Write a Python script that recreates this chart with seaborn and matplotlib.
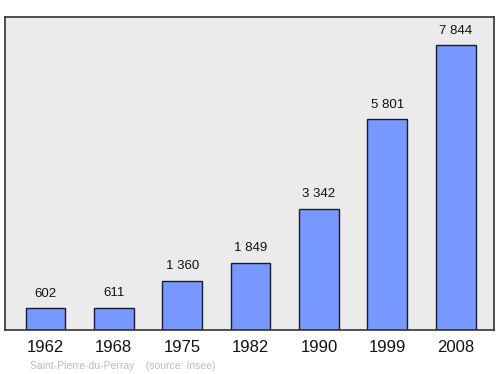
import pandas as pd
import matplotlib
matplotlib.use("Agg")
import matplotlib.pyplot as plt
import seaborn as sns

# Data
years = ['1962', '1968', '1975', '1982', '1990', '1999', '2008']
population = [602, 611, 1360, 1849, 3342, 5801, 7844]
labels = ['602', '611', '1 360', '1 849', '3 342', '5 801', '7 844']

df = pd.DataFrame({'Year': years, 'Population': population})

sns.set_style("white")
plt.rcParams['font.family'] = ['Liberation Sans', 'DejaVu Sans']

fig = plt.figure(figsize=(5, 3.74), dpi=100)
ax = fig.add_axes([0.01, 0.1176, 0.978, 0.837])
ax.set_facecolor('#ebebeb')

sns.barplot(x='Year', y='Population', data=df, color='#7799ff', saturation=1,
            width=0.58, edgecolor='#1a1a2e', linewidth=1, ax=ax)

for i, (v, t) in enumerate(zip(population, labels)):
    ax.text(i, v + 230, t, ha='center', va='bottom', fontsize=9.5, color='#111111')

ax.set_xlim(-0.59, 6.56)
ax.set_ylim(0, 8615)
ax.set_yticks([])
ax.set_xlabel('')
ax.set_ylabel('')
ax.tick_params(axis='x', length=0, labelsize=12, pad=7, labelcolor='#111111')
for s in ax.spines.values():
    s.set_color('#333333')
    s.set_linewidth(1.2)

fig.text(0.06, 0.013, 'Saint-Pierre-du-Perray    (source: Insee)', fontsize=7.5, color='#bbbbbb')

fig.savefig('out.png', dpi=100)
